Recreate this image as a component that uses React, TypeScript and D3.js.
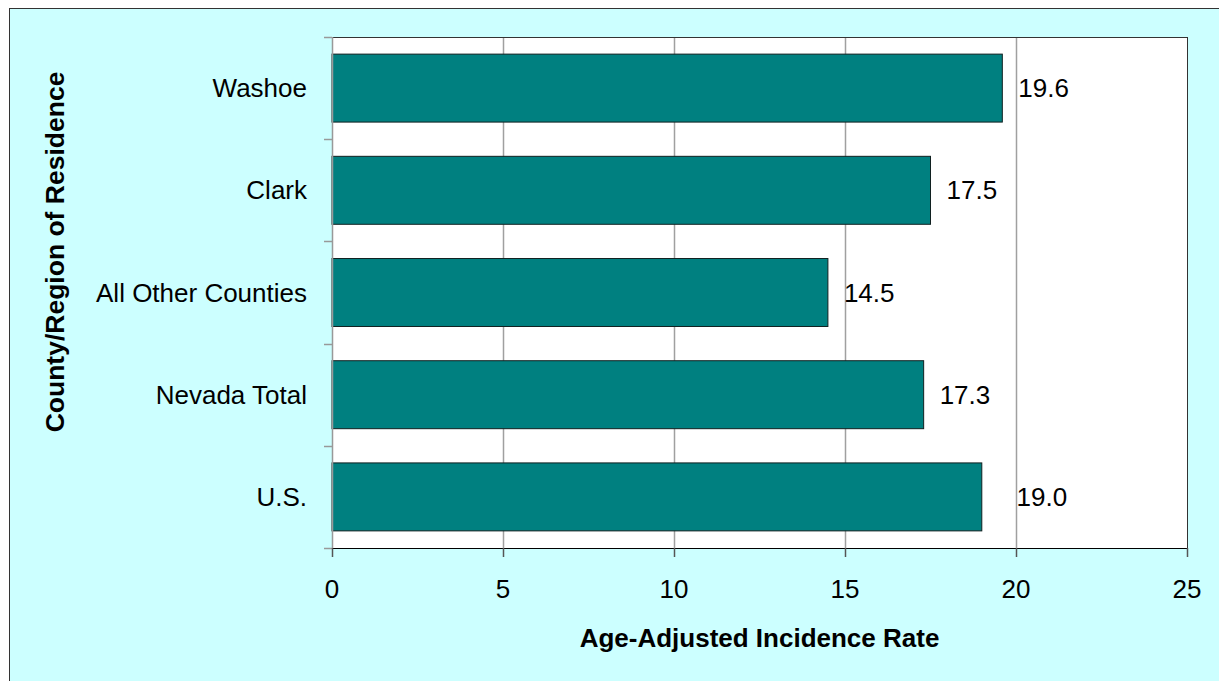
import React from "react";
import * as d3 from "d3";

const categories = ["Washoe", "Clark", "All Other Counties", "Nevada Total", "U.S."];
const values = [19.6, 17.5, 14.5, 17.3, 19.0];
const xTicks = [0, 5, 10, 15, 20, 25];
const xTitle = "Age-Adjusted Incidence Rate";
const yTitle = "County/Region of Residence";

const W = 1219;
const H = 681;
const plot = { left: 332, right: 1187, top: 37, bottom: 548 };
const FONT = "Arial, 'Liberation Sans', sans-serif";

export default function App() {
  const x = d3.scaleLinear().domain([0, 25]).range([plot.left, plot.right]);
  const y = d3
    .scaleBand<string>()
    .domain(categories)
    .range([plot.top, plot.bottom])
    .paddingInner(0.335)
    .paddingOuter(0.1675);
  const step = (plot.bottom - plot.top) / categories.length;
  const catBounds = d3.range(categories.length + 1).map((i) => plot.top + i * step);
  const grid = xTicks.slice(1, -1).map((t) => Math.round(x(t)) + 0.5);

  const labelX = (v: number) => {
    let a = x(v) + 16;
    for (const g of grid) {
      if (g - a > 5 && g < a + 45) a = g;
    }
    return a;
  };

  return (
    <svg
      width={W}
      height={H}
      style={{ position: "absolute", left: 0, top: 0, fontFamily: FONT }}
    >
      <rect x={0} y={0} width={W} height={H} fill="#ffffff" />
      <rect x={9.5} y={8.5} width={1400} height={900} fill="#ccffff" stroke="#333333" strokeWidth={1} />
      <rect
        x={plot.left}
        y={plot.top}
        width={plot.right - plot.left}
        height={plot.bottom - plot.top}
        fill="#ffffff"
      />
      {/* gridlines */}
      {grid.map((g, i) => (
        <line
          key={"g" + i}
          x1={g}
          x2={g}
          y1={plot.top}
          y2={plot.bottom}
          stroke="#a0a0a0"
          strokeWidth={1.5}
        />
      ))}
      {/* plot border top/right */}
      <line x1={plot.left} x2={plot.right + 0.5} y1={plot.top + 0.5} y2={plot.top + 0.5} stroke="#333333" />
      <line x1={plot.right + 0.5} x2={plot.right + 0.5} y1={plot.top} y2={plot.bottom} stroke="#333333" />
      {/* bars */}
      {categories.map((c, i) => (
        <g key={c}>
          <rect
            x={x(0)}
            y={y(c)!}
            width={x(values[i]) - x(0)}
            height={y.bandwidth()}
            fill="#008080"
            stroke="#102020"
            strokeWidth={1}
          />
          <text
            x={labelX(values[i])}
            y={y(c)! + y.bandwidth() / 2}
            dy="0.35em"
            fontSize={26}
            fill="#000"
          >
            {values[i].toFixed(1)}
          </text>
          <text
            x={307}
            y={y(c)! + y.bandwidth() / 2}
            dy="0.35em"
            fontSize={26}
            textAnchor="end"
            fill="#000"
          >
            {c}
          </text>
        </g>
      ))}
      {/* y axis */}
      <line x1={plot.left + 0.5} x2={plot.left + 0.5} y1={plot.top} y2={plot.bottom} stroke="#999999" strokeWidth={1.5} />
      {catBounds.map((b, i) => (
        <line key={"yt" + i} x1={plot.left - 8} x2={plot.left} y1={Math.round(b) + 0.5} y2={Math.round(b) + 0.5} stroke="#999999" strokeWidth={1.5} />
      ))}
      {/* x axis */}
      <line x1={plot.left} x2={plot.right + 1} y1={plot.bottom + 0.5} y2={plot.bottom + 0.5} stroke="#000000" />
      {xTicks.map((t) => (
        <g key={"xt" + t}>
          <line
            x1={Math.round(x(t)) + 0.5}
            x2={Math.round(x(t)) + 0.5}
            y1={plot.bottom}
            y2={plot.bottom + 9}
            stroke="#555555"
            strokeWidth={1.5}
          />
          <text x={x(t)} y={598} fontSize={26} textAnchor="middle" fill="#000">
            {t}
          </text>
        </g>
      ))}
      <text
        x={(plot.left + plot.right) / 2}
        y={647}
        fontSize={26}
        fontWeight="bold"
        textAnchor="middle"
        fill="#000"
      >
        {xTitle}
      </text>
      <text
        transform={`translate(64, 252) rotate(-90)`}
        fontSize={26.5}
        fontWeight="bold"
        textAnchor="middle"
        fill="#000"
      >
        {yTitle}
      </text>
    </svg>
  );
}
